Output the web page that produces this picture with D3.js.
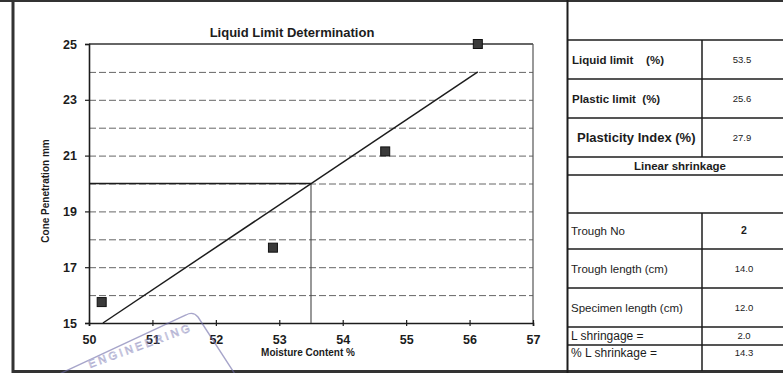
<!DOCTYPE html>
<html><head><meta charset="utf-8">
<script src="https://cdn.jsdelivr.net/npm/d3@7"></script>
<style>
html,body{margin:0;padding:0;background:#fff;}
svg{display:block;font-family:"Liberation Sans",Arial,sans-serif;}
</style></head>
<body>
<svg id="c" width="783" height="373"></svg>
<script>
// ---- data ----
const moisture = [50.2, 52.9, 54.67, 56.13];
const penetration = [15.75, 17.7, 21.15, 25.0];
const fitMoisture = [50.22, 56.13];
const fitPenetration = [15, 24];
const liquidLimit = 53.5;
const limitPenetration = 20;
const xTicks = [50, 51, 52, 53, 54, 55, 56, 57];
const yTicks = [15, 17, 19, 21, 23, 25];
const gridValues = [16, 17, 18, 19, 20, 21, 22, 23, 24];
const title = "Liquid Limit Determination";
const xTitle = "Moisture Content %";
const yTitle = "Cone Penetration mm";
const limitLabels = ["Liquid limit    (%)", "Plastic limit  (%)", "Plasticity Index (%)"];
const limitValues = ["53.5", "25.6", "27.9"];
const shrinkHeader = "Linear shrinkage";
const shrinkLabels = ["Trough No", "Trough length (cm)", "Specimen length (cm)", "L shringage =", "% L shrinkage ="];
const shrinkValues = ["2", "14.0", "12.0", "2.0", "14.3"];
const stampText = "ENGINEERING";

// ---- layout ----
const svg = d3.select("#c");
const x = d3.scaleLinear().domain([50, 57]).range([89, 533]);
const y = d3.scaleLinear().domain([15, 25]).range([323, 44]);
const ink = "#1c1c1c";

// outer frame (scanned sheet)
svg.append("line").attr("x1", 13).attr("x2", 13).attr("y1", 0).attr("y2", 373).attr("stroke", "#333").attr("stroke-width", 3);
svg.append("line").attr("x1", 0).attr("x2", 783).attr("y1", 1).attr("y2", 1).attr("stroke", "#333").attr("stroke-width", 2);
svg.append("line").attr("x1", 13).attr("x2", 783).attr("y1", 371.5).attr("y2", 371.5).attr("stroke", "#333").attr("stroke-width", 3);
svg.append("line").attr("x1", 567.5).attr("x2", 567.5).attr("y1", 0).attr("y2", 373).attr("stroke", ink).attr("stroke-width", 2);

// gridlines
svg.append("g").selectAll("line").data(gridValues).join("line")
  .attr("x1", x(50)).attr("x2", x(57))
  .attr("y1", d => y(d) + 0.5).attr("y2", d => y(d) + 0.5)
  .attr("stroke", "#666").attr("stroke-width", 1).attr("stroke-dasharray", "7,3");

// plot border top & right
svg.append("line").attr("x1", x(50)).attr("x2", x(57)).attr("y1", y(25)).attr("y2", y(25)).attr("stroke", "#333").attr("stroke-width", 1.3);
svg.append("line").attr("x1", x(57)).attr("x2", x(57)).attr("y1", y(25)).attr("y2", y(15)).attr("stroke", "#555").attr("stroke-width", 1.2);

// axes
const yAxis = svg.append("g").attr("transform", `translate(${x(50)},0)`)
  .call(d3.axisLeft(y).tickValues(yTicks).tickSize(4).tickPadding(8).tickFormat(d3.format("d")));
const xAxis = svg.append("g").attr("transform", `translate(0,${y(15)})`)
  .call(d3.axisBottom(x).tickValues(xTicks).tickSize(3).tickPadding(9).tickFormat(d3.format("d")));
[yAxis, xAxis].forEach(g => {
  g.select(".domain").attr("stroke", ink).attr("stroke-width", 1.6);
  g.selectAll(".tick line").attr("stroke", ink).attr("stroke-width", 1.2);
  g.selectAll("text").attr("fill", ink).attr("font-size", 12.5).attr("font-weight", "bold")
    .attr("font-family", "'Liberation Sans',Arial,sans-serif");
});
xAxis.selectAll(".tick line").attr("y1", -3);

// liquid limit construction lines
svg.append("line").attr("x1", x(50)).attr("x2", x(liquidLimit))
  .attr("y1", y(limitPenetration)).attr("y2", y(limitPenetration))
  .attr("stroke", ink).attr("stroke-width", 1.3);
svg.append("line").attr("x1", x(liquidLimit)).attr("x2", x(liquidLimit))
  .attr("y1", y(limitPenetration)).attr("y2", y(15))
  .attr("stroke", "#444").attr("stroke-width", 1.1);

// fitted line
svg.append("path")
  .datum(d3.zip(fitMoisture, fitPenetration))
  .attr("d", d3.line().x(d => x(d[0])).y(d => y(d[1])))
  .attr("fill", "none").attr("stroke", ink).attr("stroke-width", 1.5);

// data squares
const sq = 9;
svg.append("g").selectAll("rect").data(d3.zip(moisture, penetration)).join("rect")
  .attr("x", d => x(d[0]) - sq / 2).attr("y", d => y(d[1]) - sq / 2)
  .attr("width", sq).attr("height", sq)
  .attr("fill", "#3a3a3a").attr("stroke", "#111").attr("stroke-width", 1);

// titles
svg.append("text").attr("x", 292).attr("y", 37).attr("text-anchor", "middle")
  .attr("font-size", 13).attr("font-weight", "bold").attr("fill", ink).text(title);
svg.append("text").attr("x", 308).attr("y", 356).attr("text-anchor", "middle")
  .attr("font-size", 10).attr("font-weight", "bold").attr("fill", ink).text(xTitle);
svg.append("text").attr("transform", "translate(49,191) rotate(-90)").attr("text-anchor", "middle")
  .attr("font-size", 10).attr("font-weight", "bold").attr("fill", ink).text(yTitle);

// stamp (faint, partially off the sheet)
const stamp = svg.append("g").attr("opacity", 0.6);
stamp.append("path")
  .attr("d", "M40,383 L186,315 Q193,311 198,317 L242,385")
  .attr("fill", "none").attr("stroke", "#6d6aa8").attr("stroke-width", 1.4);
stamp.append("text").attr("transform", "translate(90,368) rotate(-20)")
  .attr("font-size", 11).attr("fill", "none").attr("stroke", "#8482b8").attr("stroke-width", 0.7)
  .attr("letter-spacing", 3).text(stampText);

// ---- table ----
const T = svg.append("g");
const tLeft = 568, tRight = 783, tDiv = 702;
const hLines = [40, 79, 118, 157, 175, 213, 249, 288, 327, 345];
T.selectAll("line.h").data(hLines).join("line").attr("class", "h")
  .attr("x1", tLeft).attr("x2", tRight).attr("y1", d => d).attr("y2", d => d)
  .attr("stroke", ink).attr("stroke-width", 1.5);
T.append("line").attr("x1", tDiv).attr("x2", tDiv).attr("y1", 40).attr("y2", 157).attr("stroke", ink).attr("stroke-width", 1.5);
T.append("line").attr("x1", tDiv).attr("x2", tDiv).attr("y1", 213).attr("y2", 371).attr("stroke", ink).attr("stroke-width", 1.5);

const limitY = [63.5, 102.5, 142];
T.selectAll("text.ll").data(limitLabels).join("text").attr("class", "ll")
  .attr("x", (d, i) => i === 2 ? 577 : 572).attr("y", (d, i) => limitY[i])
  .attr("font-size", (d, i) => i === 2 ? 13 : 11.5).attr("font-weight", "bold")
  .attr("fill", ink).style("white-space", "pre").text(d => d);
T.selectAll("text.lv").data(limitValues).join("text").attr("class", "lv")
  .attr("x", 742).attr("y", (d, i) => limitY[i] - 1).attr("text-anchor", "middle")
  .attr("font-size", 9.5).attr("fill", ink).text(d => d);
T.append("text").attr("x", 680).attr("y", 170).attr("text-anchor", "middle")
  .attr("font-size", 11.5).attr("font-weight", "bold").attr("fill", ink).text(shrinkHeader);

const shrinkY = [235, 273, 312, 340, 357];
T.selectAll("text.sl").data(shrinkLabels).join("text").attr("class", "sl")
  .attr("x", 571).attr("y", (d, i) => shrinkY[i])
  .attr("font-size", (d, i) => i >= 3 ? 12 : 11.5).attr("fill", ink).text(d => d);
T.selectAll("text.sv").data(shrinkValues).join("text").attr("class", "sv")
  .attr("x", 744).attr("y", (d, i) => shrinkY[i] - 1).attr("text-anchor", "middle")
  .attr("font-size", (d, i) => i === 0 ? 10.5 : 9.5).attr("font-weight", (d, i) => i === 0 ? "bold" : "normal")
  .attr("fill", ink).text(d => d);
</script>
</body></html>
